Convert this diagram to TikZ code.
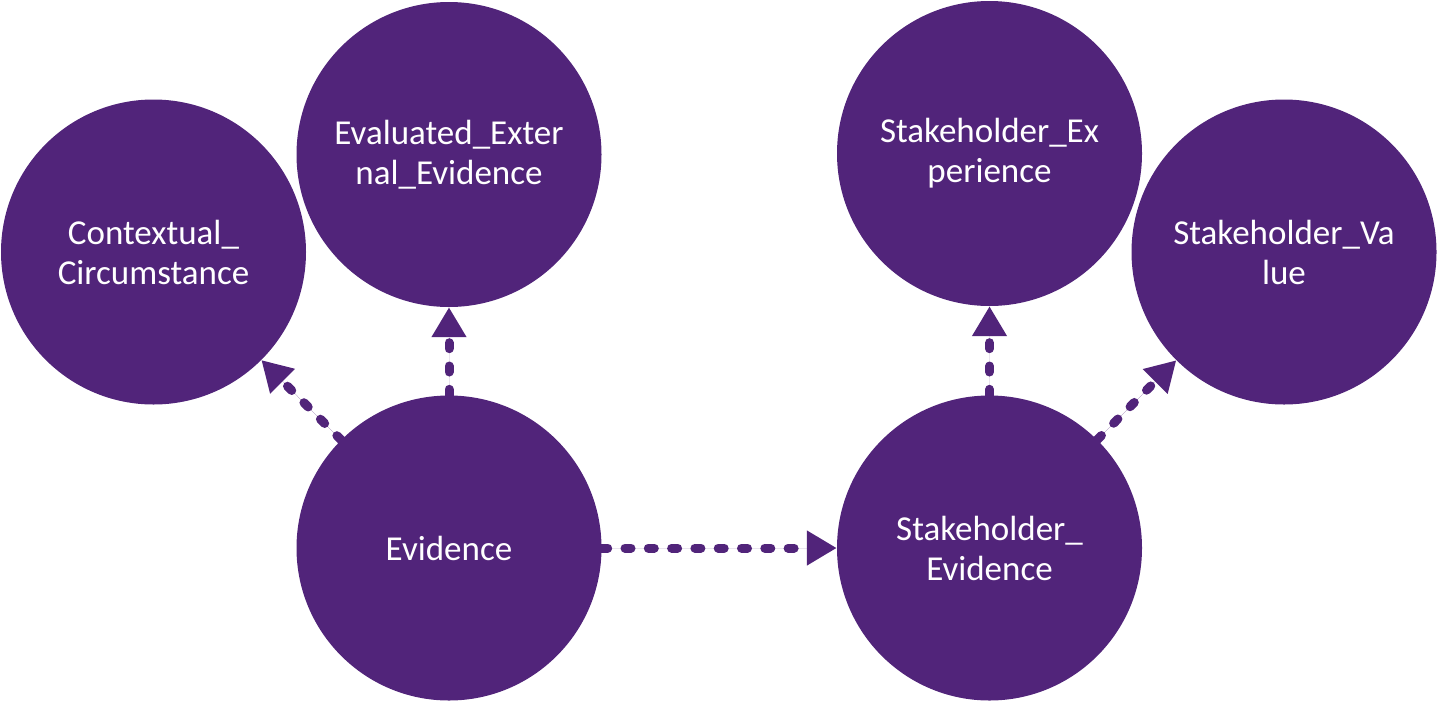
\documentclass[tikz,border=0pt]{standalone}
\usepackage{fontspec}
\setmainfont{Carlito}
\usetikzlibrary{arrows.meta}
\definecolor{purp}{RGB}{81,36,122}
\tikzset{
  bubble/.style={circle,fill=purp,draw=none,minimum size=305pt,inner sep=0pt,
    text=white,align=center,font=\fontsize{35}{40}\selectfont},
  link/.style={draw=purp,line width=9pt,line cap=round,dash pattern=on 6pt off 17.3pt,
    -{Triangle[length=30pt,width=33pt]},fill=purp}
}
\begin{document}
\begin{tikzpicture}[x=1pt,y=1pt]
\useasboundingbox (0,0) rectangle (1439,-702);
\node[bubble] (ctx) at (153.5,-252) {Contextual\_\\Circumstance};
\node[bubble] (eee) at (449,-154.5) {Evaluated\_Exter\\nal\_Evidence};
\node[bubble] (ev) at (449,-548) {Evidence};
\node[bubble] (she) at (989.5,-153.5) {Stakeholder\_Ex\\perience};
\node[bubble] (shv) at (1284,-252) {Stakeholder\_Va\\lue};
\node[bubble] (shev) at (989.5,-548) {Stakeholder\_\\Evidence};
\draw[link] (ev) -- (ctx);
\draw[link] (ev) -- (eee);
\draw[link] (ev) -- (shev);
\draw[link] (shev) -- (she);
\draw[link] (shev) -- (shv);
\end{tikzpicture}
\end{document}
